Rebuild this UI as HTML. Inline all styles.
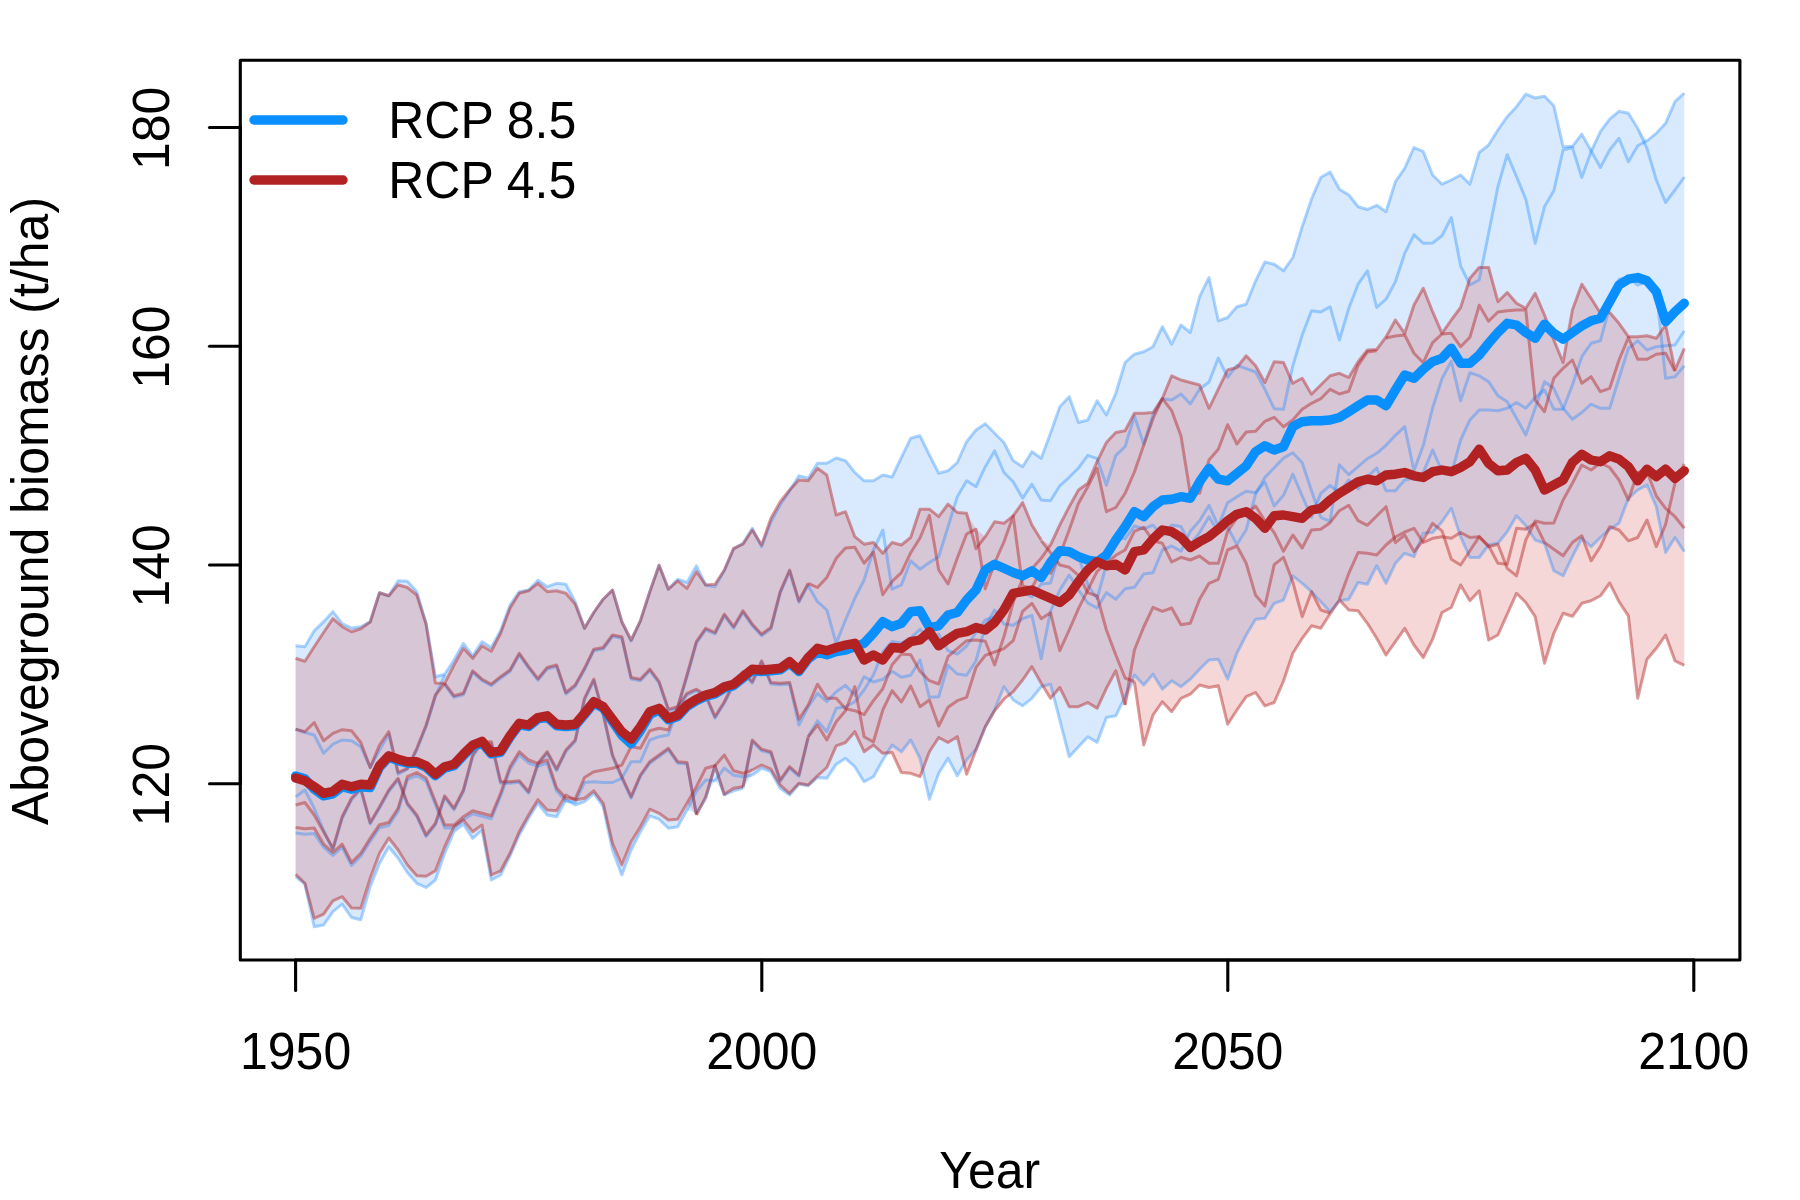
<!DOCTYPE html>
<html><head><meta charset="utf-8"><title>Aboveground biomass</title>
<style>html,body{margin:0;padding:0;background:#fff;}svg{display:block;}text{font-family:"Liberation Sans",sans-serif;font-size:50px;fill:#000;}</style></head><body>
<svg width="1800" height="1200" viewBox="0 0 1800 1200">
<rect x="0" y="0" width="1800" height="1200" fill="#fff"/>
<polygon points="295.6,645.8 304.9,646.7 314.2,630.8 323.6,621.7 332.9,611.7 342.2,623.7 351.5,628.0 360.8,626.7 370.2,621.7 379.5,592.8 388.8,595.8 398.1,580.8 407.4,581.3 416.8,591.7 426.1,623.3 435.4,676.7 444.7,674.2 454.0,660.0 463.4,643.3 472.7,655.8 482.0,641.7 491.3,647.5 500.6,630.8 510.0,605.0 519.3,591.7 528.6,590.0 537.9,580.3 547.2,586.7 556.6,583.3 565.9,584.2 575.2,601.7 584.5,628.3 593.8,612.5 603.2,599.2 612.5,590.0 621.8,621.7 631.1,641.0 640.4,620.8 649.8,591.7 659.1,565.3 668.4,589.2 677.7,579.2 687.0,582.5 696.4,565.8 705.7,585.0 715.0,586.7 724.3,570.8 733.6,549.0 743.0,543.3 752.3,528.3 761.6,546.7 770.9,521.7 780.2,505.0 789.6,490.8 798.9,475.8 808.2,478.3 817.5,463.3 826.8,463.3 836.2,458.0 845.5,460.8 854.8,472.5 864.1,480.8 873.4,480.8 882.8,475.0 892.1,477.0 901.4,457.5 910.7,438.3 920.0,435.8 929.4,455.0 938.7,473.3 948.0,470.8 957.3,462.5 966.6,441.7 976.0,430.0 985.3,423.7 994.6,433.3 1003.9,442.5 1013.2,460.8 1022.6,466.7 1031.9,451.7 1041.2,458.3 1050.5,433.3 1059.8,406.7 1069.2,396.7 1078.5,422.5 1087.8,420.0 1097.1,400.8 1106.4,415.0 1115.8,393.3 1125.1,362.5 1134.4,354.2 1143.7,351.7 1153.0,346.7 1162.4,326.7 1171.7,344.2 1181.0,325.0 1190.3,332.5 1199.6,296.7 1209.0,277.5 1218.3,320.8 1227.6,317.5 1236.9,306.7 1246.2,304.2 1255.6,280.8 1264.9,262.0 1274.2,264.2 1283.5,270.8 1292.8,257.5 1302.2,226.7 1311.5,199.2 1320.8,177.5 1330.1,172.0 1339.4,189.2 1348.8,195.0 1358.1,206.7 1367.4,209.5 1376.7,205.3 1386.0,211.7 1395.4,181.7 1404.7,168.3 1414.0,147.5 1423.3,151.7 1432.6,175.0 1442.0,184.2 1451.3,180.0 1460.6,175.0 1469.9,184.2 1479.2,152.5 1488.6,145.0 1497.9,130.0 1507.2,116.7 1516.5,106.7 1525.8,94.2 1535.2,98.0 1544.5,96.3 1553.8,105.8 1563.1,146.7 1572.4,146.3 1581.8,134.2 1591.1,150.8 1600.4,131.7 1609.7,119.2 1619.0,111.3 1628.4,113.3 1637.7,128.3 1647.0,140.8 1656.3,133.3 1665.6,123.3 1675.0,101.7 1684.3,93.0 1684.3,551.7 1675.0,537.5 1665.6,552.5 1656.3,506.7 1647.0,485.0 1637.7,490.0 1628.4,498.3 1619.0,523.3 1609.7,529.2 1600.4,537.5 1591.1,546.7 1581.8,538.3 1572.4,556.7 1563.1,575.8 1553.8,570.8 1544.5,543.3 1535.2,540.0 1525.8,525.8 1516.5,515.8 1507.2,531.7 1497.9,543.3 1488.6,545.0 1479.2,557.5 1469.9,557.5 1460.6,536.7 1451.3,508.3 1442.0,521.7 1432.6,532.5 1423.3,533.3 1414.0,556.7 1404.7,553.3 1395.4,563.3 1386.0,583.3 1376.7,565.8 1367.4,584.2 1358.1,582.5 1348.8,599.2 1339.4,600.8 1330.1,611.7 1320.8,601.7 1311.5,591.7 1302.2,583.3 1292.8,575.8 1283.5,600.0 1274.2,603.3 1264.9,618.3 1255.6,619.2 1246.2,635.0 1236.9,653.3 1227.6,679.2 1218.3,659.2 1209.0,660.0 1199.6,669.2 1190.3,679.2 1181.0,686.7 1171.7,680.8 1162.4,689.2 1153.0,674.2 1143.7,685.0 1134.4,675.0 1125.1,696.7 1115.8,715.8 1106.4,717.5 1097.1,742.5 1087.8,736.7 1078.5,746.7 1069.2,756.7 1059.8,720.0 1050.5,684.2 1041.2,686.7 1031.9,698.3 1022.6,705.8 1013.2,700.0 1003.9,686.7 994.6,710.0 985.3,726.7 976.0,749.2 966.6,760.0 957.3,775.8 948.0,758.3 938.7,773.3 929.4,799.2 920.0,758.3 910.7,740.0 901.4,751.7 892.1,745.0 882.8,760.0 873.4,776.7 864.1,781.7 854.8,766.7 845.5,758.3 836.2,764.2 826.8,778.3 817.5,777.5 808.2,785.8 798.9,784.2 789.6,795.0 780.2,788.3 770.9,771.7 761.6,768.3 752.3,775.0 743.0,788.3 733.6,790.8 724.3,795.0 715.0,780.0 705.7,798.5 696.4,813.5 687.0,810.0 677.7,826.7 668.4,828.3 659.1,819.2 649.8,815.8 640.4,831.7 631.1,850.0 621.8,875.0 612.5,850.0 603.2,806.7 593.8,793.3 584.5,801.7 575.2,805.0 565.9,800.0 556.6,816.7 547.2,815.0 537.9,803.3 528.6,818.3 519.3,835.0 510.0,855.8 500.6,875.0 491.3,880.0 482.0,830.0 472.7,838.3 463.4,824.2 454.0,831.7 444.7,853.3 435.4,880.0 426.1,887.5 416.8,883.3 407.4,872.5 398.1,858.3 388.8,846.7 379.5,863.3 370.2,886.7 360.8,919.7 351.5,917.5 342.2,904.2 332.9,911.7 323.6,925.0 314.2,926.7 304.9,884.2 295.6,876.7" fill="rgb(24,124,249)" fill-opacity="0.16" stroke="none"/>
<polygon points="295.6,658.3 304.9,661.3 314.2,646.7 323.6,632.5 332.9,618.7 342.2,626.7 351.5,631.7 360.8,628.7 370.2,622.0 379.5,592.8 388.8,595.8 398.1,584.7 407.4,587.5 416.8,595.0 426.1,624.2 435.4,683.0 444.7,683.3 454.0,665.0 463.4,648.3 472.7,658.3 482.0,645.8 491.3,651.3 500.6,633.3 510.0,608.3 519.3,593.3 528.6,590.8 537.9,583.3 547.2,591.7 556.6,590.8 565.9,593.3 575.2,604.2 584.5,628.3 593.8,612.5 603.2,599.2 612.5,590.0 621.8,621.7 631.1,640.0 640.4,620.8 649.8,591.7 659.1,565.3 668.4,589.2 677.7,580.8 687.0,588.3 696.4,571.7 705.7,585.0 715.0,584.2 724.3,570.0 733.6,548.3 743.0,544.2 752.3,530.0 761.6,545.0 770.9,518.3 780.2,501.7 789.6,490.0 798.9,480.0 808.2,480.8 817.5,468.3 826.8,475.0 836.2,515.0 845.5,511.7 854.8,536.7 864.1,544.2 873.4,542.5 882.8,553.3 892.1,542.5 901.4,545.0 910.7,537.5 920.0,509.2 929.4,509.2 938.7,516.7 948.0,504.2 957.3,512.5 966.6,513.3 976.0,529.2 985.3,536.7 994.6,521.7 1003.9,523.3 1013.2,515.8 1022.6,502.5 1031.9,525.0 1041.2,540.0 1050.5,545.0 1059.8,525.0 1069.2,506.7 1078.5,490.0 1087.8,483.3 1097.1,461.7 1106.4,442.5 1115.8,432.5 1125.1,430.8 1134.4,413.3 1143.7,413.3 1153.0,412.5 1162.4,398.3 1171.7,375.8 1181.0,380.0 1190.3,382.5 1199.6,385.0 1209.0,408.3 1218.3,389.2 1227.6,370.0 1236.9,367.5 1246.2,355.8 1255.6,365.8 1264.9,382.5 1274.2,361.7 1283.5,362.5 1292.8,383.3 1302.2,378.3 1311.5,394.2 1320.8,385.0 1330.1,375.8 1339.4,373.3 1348.8,377.5 1358.1,361.7 1367.4,350.0 1376.7,349.5 1386.0,337.0 1395.4,320.0 1404.7,333.3 1414.0,305.0 1423.3,288.3 1432.6,311.7 1442.0,333.3 1451.3,320.0 1460.6,307.5 1469.9,278.3 1479.2,267.5 1488.6,267.5 1497.9,301.7 1507.2,292.5 1516.5,303.3 1525.8,308.3 1535.2,293.3 1544.5,315.0 1553.8,340.0 1563.1,362.5 1572.4,310.0 1581.8,284.2 1591.1,298.3 1600.4,313.3 1609.7,312.5 1619.0,323.3 1628.4,336.7 1637.7,336.7 1647.0,335.8 1656.3,338.3 1665.6,325.0 1675.0,370.0 1684.3,348.3 1684.3,665.3 1675.0,660.8 1665.6,635.0 1656.3,648.3 1647.0,659.2 1637.7,698.3 1628.4,615.8 1619.0,601.7 1609.7,583.0 1600.4,595.8 1591.1,600.8 1581.8,603.3 1572.4,616.3 1563.1,613.3 1553.8,633.3 1544.5,663.3 1535.2,616.7 1525.8,602.5 1516.5,593.3 1507.2,614.2 1497.9,635.0 1488.6,640.0 1479.2,590.8 1469.9,600.8 1460.6,585.0 1451.3,607.5 1442.0,612.5 1432.6,639.2 1423.3,657.5 1414.0,645.0 1404.7,628.3 1395.4,641.7 1386.0,655.0 1376.7,638.3 1367.4,623.3 1358.1,610.8 1348.8,610.0 1339.4,600.0 1330.1,613.8 1320.8,628.3 1311.5,625.8 1302.2,638.3 1292.8,653.3 1283.5,681.0 1274.2,702.5 1264.9,705.8 1255.6,692.5 1246.2,696.7 1236.9,710.0 1227.6,724.2 1218.3,685.8 1209.0,687.5 1199.6,685.0 1190.3,694.2 1181.0,698.3 1171.7,711.7 1162.4,701.7 1153.0,715.0 1143.7,745.0 1134.4,681.7 1125.1,705.0 1115.8,670.8 1106.4,688.3 1097.1,708.3 1087.8,702.5 1078.5,706.7 1069.2,706.7 1059.8,687.5 1050.5,698.3 1041.2,683.3 1031.9,666.7 1022.6,680.0 1013.2,691.7 1003.9,699.2 994.6,710.8 985.3,726.7 976.0,750.0 966.6,774.2 957.3,736.7 948.0,742.5 938.7,737.5 929.4,751.7 920.0,776.7 910.7,773.3 901.4,772.5 892.1,752.5 882.8,753.3 873.4,745.0 864.1,751.7 854.8,731.7 845.5,742.5 836.2,745.8 826.8,767.5 817.5,775.8 808.2,785.0 798.9,783.3 789.6,793.3 780.2,785.0 770.9,769.2 761.6,765.0 752.3,770.0 743.0,786.7 733.6,788.3 724.3,794.2 715.0,765.8 705.7,796.7 696.4,815.0 687.0,803.3 677.7,819.2 668.4,820.0 659.1,813.3 649.8,809.2 640.4,826.7 631.1,841.7 621.8,865.0 612.5,843.3 603.2,803.3 593.8,790.8 584.5,798.3 575.2,800.0 565.9,795.0 556.6,810.8 547.2,810.0 537.9,799.7 528.6,815.0 519.3,831.7 510.0,853.3 500.6,870.8 491.3,875.0 482.0,825.0 472.7,831.7 463.4,820.0 454.0,826.7 444.7,846.7 435.4,870.8 426.1,876.3 416.8,875.8 407.4,865.0 398.1,850.0 388.8,838.0 379.5,853.3 370.2,878.3 360.8,908.3 351.5,908.0 342.2,896.7 332.9,900.8 323.6,914.2 314.2,918.3 304.9,883.3 295.6,874.2" fill="rgb(205,38,38)" fill-opacity="0.185" stroke="none"/>
<g fill="none" stroke="rgb(16,130,255)" stroke-opacity="0.34" stroke-width="3.0" stroke-linejoin="round" stroke-linecap="butt">
<polyline points="295.6,645.8 304.9,646.7 314.2,630.8 323.6,621.7 332.9,611.7 342.2,623.7 351.5,628.0 360.8,626.7 370.2,621.7 379.5,592.8 388.8,595.8 398.1,580.8 407.4,581.3 416.8,591.7 426.1,623.3 435.4,676.7 444.7,674.2 454.0,660.0 463.4,643.3 472.7,655.8 482.0,641.7 491.3,647.5 500.6,630.8 510.0,605.0 519.3,591.7 528.6,590.0 537.9,580.3 547.2,586.7 556.6,583.3 565.9,584.2 575.2,601.7 584.5,628.3 593.8,612.5 603.2,599.2 612.5,590.0 621.8,621.7 631.1,641.0 640.4,620.8 649.8,591.7 659.1,565.3 668.4,589.2 677.7,579.2 687.0,582.5 696.4,565.8 705.7,585.0 715.0,586.7 724.3,570.8 733.6,549.0 743.0,543.3 752.3,528.3 761.6,546.7 770.9,521.7 780.2,505.0 789.6,490.8 798.9,475.8 808.2,478.3 817.5,463.3 826.8,463.3 836.2,458.0 845.5,460.8 854.8,472.5 864.1,480.8 873.4,480.8 882.8,475.0 892.1,477.0 901.4,457.5 910.7,438.3 920.0,435.8 929.4,455.0 938.7,473.3 948.0,470.8 957.3,462.5 966.6,441.7 976.0,430.0 985.3,423.7 994.6,433.3 1003.9,442.5 1013.2,460.8 1022.6,466.7 1031.9,451.7 1041.2,458.3 1050.5,433.3 1059.8,406.7 1069.2,396.7 1078.5,422.5 1087.8,420.0 1097.1,400.8 1106.4,415.0 1115.8,393.3 1125.1,362.5 1134.4,354.2 1143.7,351.7 1153.0,346.7 1162.4,326.7 1171.7,344.2 1181.0,325.0 1190.3,332.5 1199.6,296.7 1209.0,277.5 1218.3,320.8 1227.6,317.5 1236.9,306.7 1246.2,304.2 1255.6,280.8 1264.9,262.0 1274.2,264.2 1283.5,270.8 1292.8,257.5 1302.2,226.7 1311.5,199.2 1320.8,177.5 1330.1,172.0 1339.4,189.2 1348.8,195.0 1358.1,206.7 1367.4,209.5 1376.7,205.3 1386.0,211.7 1395.4,181.7 1404.7,168.3 1414.0,147.5 1423.3,151.7 1432.6,175.0 1442.0,184.2 1451.3,180.0 1460.6,175.0 1469.9,184.2 1479.2,152.5 1488.6,145.0 1497.9,130.0 1507.2,116.7 1516.5,106.7 1525.8,94.2 1535.2,98.0 1544.5,96.3 1553.8,105.8 1563.1,146.7 1572.4,146.3 1581.8,134.2 1591.1,150.8 1600.4,167.5 1609.7,150.0 1619.0,138.3 1628.4,161.7 1637.7,145.8 1647.0,140.8 1656.3,133.3 1665.6,123.3 1675.0,101.7 1684.3,93.0"/>
<polyline points="295.6,876.7 304.9,884.2 314.2,926.7 323.6,925.0 332.9,911.7 342.2,904.2 351.5,917.5 360.8,919.7 370.2,886.7 379.5,863.3 388.8,846.7 398.1,858.3 407.4,872.5 416.8,883.3 426.1,887.5 435.4,880.0 444.7,853.3 454.0,831.7 463.4,824.2 472.7,838.3 482.0,830.0 491.3,880.0 500.6,875.0 510.0,855.8 519.3,835.0 528.6,818.3 537.9,803.3 547.2,815.0 556.6,816.7 565.9,800.0 575.2,805.0 584.5,801.7 593.8,793.3 603.2,806.7 612.5,850.0 621.8,875.0 631.1,850.0 640.4,831.7 649.8,815.8 659.1,819.2 668.4,828.3 677.7,826.7 687.0,810.0"/>
<polyline points="696.4,813.5 705.7,798.5"/>
<polyline points="724.3,795.0 733.6,790.8 743.0,788.3"/>
<polyline points="752.3,775.0 761.6,768.3 770.9,771.7 780.2,788.3 789.6,795.0 798.9,784.2 808.2,785.8 817.5,777.5 826.8,778.3 836.2,764.2 845.5,758.3 854.8,766.7 864.1,781.7 873.4,776.7 882.8,760.0 892.1,745.0 901.4,751.7 910.7,740.0 920.0,758.3 929.4,799.2 938.7,773.3 948.0,758.3 957.3,775.8 966.6,760.0 976.0,749.2 985.3,726.7 994.6,710.0 1003.9,686.7 1013.2,700.0 1022.6,705.8 1031.9,698.3 1041.2,686.7 1050.5,684.2 1059.8,720.0 1069.2,756.7 1078.5,746.7 1087.8,736.7 1097.1,742.5 1106.4,717.5 1115.8,715.8 1125.1,696.7 1134.4,675.0 1143.7,685.0 1153.0,674.2 1162.4,689.2 1171.7,680.8 1181.0,686.7 1190.3,679.2 1199.6,669.2 1209.0,660.0 1218.3,659.2 1227.6,679.2 1236.9,653.3 1246.2,635.0 1255.6,619.2 1264.9,618.3 1274.2,603.3 1283.5,600.0 1292.8,575.8 1302.2,583.3 1311.5,591.7 1320.8,601.7 1330.1,611.7 1339.4,600.8 1348.8,599.2 1358.1,582.5 1367.4,584.2 1376.7,565.8 1386.0,583.3 1395.4,563.3 1404.7,553.3 1414.0,556.7 1423.3,533.3 1432.6,532.5 1442.0,521.7 1451.3,508.3 1460.6,536.7 1469.9,557.5 1479.2,557.5 1488.6,545.0 1497.9,543.3 1507.2,531.7 1516.5,515.8 1525.8,525.8 1535.2,540.0 1544.5,543.3 1553.8,570.8 1563.1,575.8 1572.4,556.7 1581.8,538.3 1591.1,546.7 1600.4,537.5 1609.7,529.2 1619.0,523.3 1628.4,498.3 1637.7,490.0 1647.0,485.0 1656.3,506.7 1665.6,552.5 1675.0,537.5 1684.3,551.7"/>
<polyline points="808.2,585.8 817.5,601.7 826.8,610.0 836.2,643.3 845.5,620.0 854.8,598.3 864.1,580.0 873.4,550.0 882.8,530.0 892.1,589.2 901.4,585.0 910.7,560.8 920.0,569.2 929.4,562.5 938.7,556.7 948.0,526.7 957.3,496.7 966.6,480.8 976.0,486.7 985.3,466.7 994.6,450.8 1003.9,472.5 1013.2,481.7 1022.6,498.3 1031.9,484.2 1041.2,500.0 1050.5,500.8 1059.8,485.8 1069.2,477.3 1078.5,468.0 1087.8,455.3 1097.1,458.7 1106.4,485.3 1115.8,455.3 1125.1,446.7 1134.4,416.0 1143.7,444.0 1153.0,414.7 1162.4,398.7 1171.7,400.0 1181.0,394.0 1190.3,404.0 1199.6,389.3 1209.0,382.0 1218.3,358.0 1227.6,377.3 1236.9,365.3 1246.2,368.7 1255.6,372.0 1264.9,389.3 1274.2,408.7 1283.5,409.3 1292.8,366.0 1302.2,335.0 1311.5,310.8 1320.8,312.0 1330.1,306.7 1339.4,340.0 1348.8,308.3 1358.1,284.2 1367.4,270.8 1376.7,307.5 1386.0,299.2 1395.4,281.7 1404.7,253.3 1414.0,234.7 1423.3,243.3 1432.6,243.0 1442.0,235.8 1451.3,217.5 1460.6,265.8 1469.9,285.0 1479.2,280.0 1488.6,233.3 1497.9,186.7 1507.2,154.7 1516.5,176.7 1525.8,199.2 1535.2,243.3 1544.5,206.7 1553.8,190.8 1563.1,150.0 1572.4,147.5 1581.8,177.5 1591.1,151.7 1600.4,131.7 1609.7,119.2 1619.0,111.3 1628.4,113.3 1637.7,128.3 1647.0,148.3 1656.3,180.0 1665.6,202.5 1675.0,190.0 1684.3,177.0"/>
<polyline points="808.2,706.7 817.5,693.3 826.8,701.7 836.2,691.7 845.5,685.3 854.8,695.3 864.1,676.7 873.4,682.0 882.8,679.3 892.1,671.3 901.4,677.3 910.7,675.3 920.0,660.0 929.4,697.3 938.7,696.7 948.0,665.3 957.3,674.0 966.6,675.3 976.0,660.7 985.3,626.0 994.6,610.0 1003.9,624.0 1013.2,625.3 1022.6,618.7 1031.9,615.3 1041.2,658.7 1050.5,611.3 1059.8,590.0 1069.2,575.0 1078.5,590.0 1087.8,603.0 1097.1,608.0 1106.4,592.7 1115.8,599.3 1125.1,588.7 1134.4,587.3 1143.7,574.0 1153.0,572.7 1162.4,550.0 1171.7,546.0 1181.0,551.3 1190.3,531.3 1199.6,520.7 1209.0,505.3 1218.3,526.0 1227.6,502.7 1236.9,496.7 1246.2,491.3 1255.6,492.7 1264.9,482.0 1274.2,506.0 1283.5,495.3 1292.8,474.0 1302.2,496.0 1311.5,517.3 1320.8,493.3 1330.1,485.3 1339.4,492.8 1348.8,480.0 1358.1,489.0 1367.4,476.8 1376.7,468.0 1386.0,490.7 1395.4,490.7 1404.7,480.0 1414.0,478.0 1423.3,472.4 1432.6,450.0 1442.0,471.0 1451.3,474.0 1460.6,440.0 1469.9,420.0 1479.2,410.0 1488.6,410.0 1497.9,410.8 1507.2,408.3 1516.5,402.5 1525.8,408.3 1535.2,397.5 1544.5,390.0 1553.8,409.2 1563.1,409.2 1572.4,385.0 1581.8,356.7 1591.1,343.3 1600.4,340.8 1609.7,306.7 1619.0,279.2 1628.4,277.5 1637.7,285.0 1647.0,281.7 1656.3,290.0 1665.6,378.3 1675.0,376.7 1684.3,365.8"/>
<polyline points="808.2,736.7 817.5,720.8 826.8,731.7 836.2,708.3 845.5,706.7 854.8,701.7 864.1,690.0 873.4,675.0 882.8,652.0 892.1,641.6 901.4,643.0 910.7,638.0 920.0,629.3 929.4,639.3 938.7,634.0 948.0,650.7 957.3,654.0 966.6,646.0 976.0,632.7 985.3,620.0 994.6,617.0 1003.9,612.0 1013.2,597.0 1022.6,592.0 1031.9,597.0 1041.2,584.0 1050.5,582.9 1059.8,551.5 1069.2,552.8 1078.5,556.3 1087.8,585.0 1097.1,598.5 1106.4,564.5 1115.8,536.3 1125.1,538.9 1134.4,526.0 1143.7,528.8 1153.0,525.2 1162.4,535.4 1171.7,525.0 1181.0,526.5 1190.3,544.5 1199.6,532.6 1209.0,516.7 1218.3,532.0 1227.6,527.3 1236.9,544.5 1246.2,529.8 1255.6,493.8 1264.9,477.4 1274.2,467.8 1283.5,458.1 1292.8,452.7 1302.2,462.7 1311.5,490.7 1320.8,517.3 1330.1,521.3 1339.4,464.7 1348.8,474.7 1358.1,466.7 1367.4,458.7 1376.7,453.3 1386.0,445.3 1395.4,435.3 1404.7,426.7 1414.0,470.7 1423.3,445.3 1432.6,408.0 1442.0,378.7 1451.3,361.3 1460.6,400.7 1469.9,372.7 1479.2,375.8 1488.6,381.7 1497.9,395.8 1507.2,401.7 1516.5,418.3 1525.8,435.0 1535.2,408.3 1544.5,381.7 1553.8,388.3 1563.1,408.3 1572.4,419.2 1581.8,412.5 1591.1,404.2 1600.4,408.3 1609.7,408.3 1619.0,378.3 1628.4,348.3 1637.7,340.8 1647.0,350.0 1656.3,346.7 1665.6,345.8 1675.0,345.0 1684.3,330.8"/>
<polyline points="444.7,684.8 454.0,697.3 463.4,694.8 472.7,672.3 482.0,680.7 491.3,685.7 500.6,678.2 510.0,671.5 519.3,654.8 528.6,668.2 537.9,680.2 547.2,669.0 556.6,666.5 565.9,694.0 575.2,686.5 584.5,669.8 593.8,650.7 603.2,649.0 612.5,636.5 621.8,638.2 631.1,679.0 640.4,680.7 649.8,670.7 659.1,683.2 668.4,710.7 677.7,708.2 687.0,676.5 696.4,643.2 705.7,629.8 715.0,634.0 724.3,615.7 733.6,628.2 743.0,612.3 752.3,625.7 761.6,635.7 770.9,629.0 780.2,593.2 789.6,571.5 798.9,602.3 808.2,584.8"/>
<polyline points="295.6,729.2 304.9,732.5 314.2,735.0 323.6,753.3 332.9,744.2 342.2,740.0 351.5,740.8 360.8,746.7 370.2,767.5 379.5,750.0 388.8,734.2 398.1,774.2 407.4,769.2 416.8,750.0 426.1,726.7 435.4,696.5 444.7,675.0"/>
<polyline points="295.6,796.7 304.9,790.0 314.2,808.3 323.6,830.5 332.9,849.8 342.2,818.2 351.5,799.8 360.8,789.8 370.2,824.0 379.5,808.2 388.8,791.5 398.1,779.8 407.4,804.8 416.8,816.5 426.1,836.5 435.4,824.8 444.7,797.3 454.0,809.8 463.4,791.5 472.7,756.5 482.0,743.2 491.3,743.2 500.6,783.2 510.0,783.2 519.3,782.3 528.6,793.2 537.9,764.8 547.2,753.2 556.6,770.5 565.9,751.5 575.2,741.5 584.5,699.8 593.8,680.7 603.2,714.8 612.5,756.5 621.8,778.2 631.1,798.2 640.4,776.5 649.8,763.2 659.1,756.5 668.4,749.8 677.7,763.2 687.0,764.0 696.4,813.5"/>
<polyline points="705.7,798.5 715.0,765.7 724.3,795.7"/>
<polyline points="743.0,788.2 752.3,741.5 761.6,750.7 770.9,753.2 780.2,781.5 789.6,768.2 798.9,776.5 808.2,738.2"/>
<polyline points="687.0,810.0 696.4,791.3 705.7,780.0 715.0,780.7 724.3,768.0 733.6,775.3 743.0,776.7 752.3,775.0"/>
<polyline points="295.6,833.0 304.9,834.2 314.2,833.5 323.6,847.2 332.9,855.5 342.2,847.2 351.5,865.5 360.8,856.3 370.2,841.3 379.5,827.7 388.8,825.5 398.1,811.3 407.4,779.7 416.8,775.5 426.1,781.3 435.4,804.7 444.7,828.0 454.0,828.0 463.4,819.7 472.7,813.8 482.0,816.3 491.3,818.8 500.6,796.3 510.0,769.7 519.3,754.7 528.6,763.0 537.9,766.3 547.2,763.0 556.6,791.0 565.9,801.0 575.2,802.0 584.5,782.5 593.8,781.7 603.2,782.5 612.5,782.5 621.8,778.3 631.1,761.7 640.4,761.7 649.8,740.0 659.1,736.7 668.4,735.0 677.7,708.2 687.0,694.8 696.4,690.7 705.7,696.5 715.0,718.2 724.3,703.2 733.6,684.8 743.0,673.2 752.3,683.2 761.6,662.3 770.9,684.0 780.2,684.8 789.6,684.0 798.9,725.0 808.2,706.7"/>
</g>
<g fill="none" stroke="#b22222" stroke-opacity="0.45" stroke-width="3.0" stroke-linejoin="round" stroke-linecap="butt">
<polyline points="295.6,658.3 304.9,661.3 314.2,646.7 323.6,632.5 332.9,618.7 342.2,626.7 351.5,631.7 360.8,628.7 370.2,622.0 379.5,592.8 388.8,595.8 398.1,584.7 407.4,587.5 416.8,595.0 426.1,624.2 435.4,683.0 444.7,683.3 454.0,665.0 463.4,648.3 472.7,658.3 482.0,645.8 491.3,651.3 500.6,633.3 510.0,608.3 519.3,593.3 528.6,590.8 537.9,583.3 547.2,591.7 556.6,590.8 565.9,593.3 575.2,604.2 584.5,628.3 593.8,612.5 603.2,599.2 612.5,590.0 621.8,621.7 631.1,640.0 640.4,620.8 649.8,591.7 659.1,565.3 668.4,589.2 677.7,580.8 687.0,588.3 696.4,571.7 705.7,585.0 715.0,584.2 724.3,570.0 733.6,548.3 743.0,544.2 752.3,530.0 761.6,545.0 770.9,518.3 780.2,501.7 789.6,490.0 798.9,480.0 808.2,480.8 817.5,468.3 826.8,475.0 836.2,515.0 845.5,511.7 854.8,536.7 864.1,544.2 873.4,542.5 882.8,553.3 892.1,542.5 901.4,545.0 910.7,537.5 920.0,509.2 929.4,509.2 938.7,516.7 948.0,504.2 957.3,512.5 966.6,513.3 976.0,548.7 985.3,536.7 994.6,521.7 1003.9,523.3 1013.2,515.8 1022.6,502.5 1031.9,525.0 1041.2,540.0"/>
<polyline points="1050.5,545.0 1059.8,525.0 1069.2,506.7 1078.5,490.0 1087.8,483.3 1097.1,461.7 1106.4,442.5 1115.8,432.5 1125.1,430.8 1134.4,413.3 1143.7,413.3 1153.0,412.5 1162.4,398.3 1171.7,375.8 1181.0,380.0 1190.3,382.5 1199.6,385.0 1209.0,408.3 1218.3,389.2 1227.6,370.0 1236.9,367.5 1246.2,355.8 1255.6,365.8 1264.9,382.5 1274.2,361.7 1283.5,362.5 1292.8,383.3 1302.2,378.3 1311.5,394.2 1320.8,385.0 1330.1,375.8 1339.4,373.3 1348.8,377.5 1358.1,361.7 1367.4,350.0 1376.7,349.5 1386.0,337.0 1395.4,320.0 1404.7,333.3 1414.0,305.0 1423.3,288.3 1432.6,311.7 1442.0,333.3 1451.3,320.0 1460.6,307.5 1469.9,278.3 1479.2,267.5 1488.6,267.5 1497.9,301.7 1507.2,292.5 1516.5,303.3 1525.8,308.3 1535.2,293.3 1544.5,315.0 1553.8,340.0 1563.1,362.5 1572.4,310.0 1581.8,284.2 1591.1,298.3 1600.4,313.3 1609.7,312.5 1619.0,323.3 1628.4,336.7 1637.7,336.7 1647.0,335.8 1656.3,338.3 1665.6,325.0 1675.0,370.0 1684.3,348.3"/>
<polyline points="295.6,874.2 304.9,883.3 314.2,918.3 323.6,914.2 332.9,900.8 342.2,896.7 351.5,908.0 360.8,908.3 370.2,878.3 379.5,853.3 388.8,838.0 398.1,850.0 407.4,865.0 416.8,875.8 426.1,876.3 435.4,870.8 444.7,846.7 454.0,826.7 463.4,820.0 472.7,831.7 482.0,825.0 491.3,875.0 500.6,870.8 510.0,853.3 519.3,831.7 528.6,815.0 537.9,799.7 547.2,810.0 556.6,810.8 565.9,795.0 575.2,800.0 584.5,798.3 593.8,790.8 603.2,803.3 612.5,843.3 621.8,865.0 631.1,841.7 640.4,826.7 649.8,809.2 659.1,813.3 668.4,820.0 677.7,819.2 687.0,803.3"/>
<polyline points="696.4,815.0 705.7,796.7 715.0,765.8 724.3,794.2 733.6,788.3 743.0,786.7"/>
<polyline points="752.3,770.0 761.6,765.0 770.9,769.2 780.2,785.0 789.6,793.3 798.9,783.3 808.2,785.0 817.5,775.8 826.8,767.5 836.2,745.8 845.5,742.5 854.8,731.7 864.1,751.7 873.4,745.0 882.8,753.3 892.1,752.5 901.4,772.5 910.7,773.3 920.0,776.7 929.4,751.7 938.7,737.5 948.0,742.5 957.3,736.7 966.6,774.2 976.0,750.0 985.3,726.7 994.6,710.8 1003.9,699.2 1013.2,691.7 1022.6,680.0 1031.9,666.7 1041.2,683.3 1050.5,698.3 1059.8,687.5 1069.2,706.7 1078.5,706.7 1087.8,702.5 1097.1,708.3 1106.4,688.3 1115.8,670.8 1125.1,705.0"/>
<polyline points="1134.4,681.7 1143.7,745.0 1153.0,715.0 1162.4,701.7 1171.7,711.7 1181.0,698.3 1190.3,694.2 1199.6,685.0 1209.0,687.5 1218.3,685.8 1227.6,724.2 1236.9,710.0 1246.2,696.7 1255.6,692.5 1264.9,705.8 1274.2,702.5 1283.5,681.0 1292.8,653.3 1302.2,638.3 1311.5,625.8 1320.8,628.3 1330.1,613.8 1339.4,600.0 1348.8,610.0 1358.1,610.8 1367.4,623.3 1376.7,638.3 1386.0,655.0 1395.4,641.7 1404.7,628.3 1414.0,645.0 1423.3,657.5 1432.6,639.2 1442.0,612.5 1451.3,607.5 1460.6,585.0 1469.9,600.8 1479.2,590.8 1488.6,640.0 1497.9,635.0 1507.2,614.2 1516.5,593.3 1525.8,602.5 1535.2,616.7 1544.5,663.3 1553.8,633.3 1563.1,613.3 1572.4,616.3 1581.8,603.3 1591.1,600.8 1600.4,595.8 1609.7,583.0 1619.0,601.7 1628.4,615.8 1637.7,698.3 1647.0,659.2 1656.3,648.3 1665.6,635.0 1675.0,660.8 1684.3,665.3"/>
<polyline points="444.7,683.3 454.0,695.8 463.4,693.3 472.7,670.8 482.0,679.2 491.3,684.2 500.6,676.7 510.0,670.0 519.3,653.3 528.6,666.7 537.9,678.7 547.2,667.5 556.6,665.0 565.9,692.5 575.2,685.0 584.5,668.3 593.8,649.2 603.2,647.5 612.5,635.0 621.8,636.7 631.1,677.5 640.4,679.2 649.8,669.2 659.1,681.7 668.4,709.2 677.7,706.7 687.0,675.0 696.4,641.7 705.7,628.3 715.0,632.5 724.3,614.2 733.6,626.7 743.0,610.8 752.3,624.2 761.6,634.2 770.9,627.5 780.2,591.7 789.6,570.0 798.9,600.8 808.2,583.3"/>
<polyline points="295.6,729.2 304.9,731.7 314.2,722.5 323.6,740.8 332.9,733.3 342.2,729.7 351.5,730.8 360.8,742.5 370.2,767.5 379.5,745.0 388.8,731.7 398.1,772.5 407.4,768.3 416.8,748.3 426.1,725.0 435.4,695.0 444.7,683.3"/>
<polyline points="295.6,805.0 304.9,802.5 314.2,815.0 323.6,831.7 332.9,848.3 342.2,816.7 351.5,798.3 360.8,788.3 370.2,822.5 379.5,806.7 388.8,790.0 398.1,778.3 407.4,803.3 416.8,815.0 426.1,835.0 435.4,823.3 444.7,795.8 454.0,808.3 463.4,790.0 472.7,755.0 482.0,741.7 491.3,741.7 500.6,781.7 510.0,781.7 519.3,780.8 528.6,791.7 537.9,763.3 547.2,751.7 556.6,769.0 565.9,750.0 575.2,740.0 584.5,698.3 593.8,679.2 603.2,713.3 612.5,755.0 621.8,776.7 631.1,796.7 640.4,775.0 649.8,761.7 659.1,755.0 668.4,748.3 677.7,761.7 687.0,762.5 696.4,815.0"/>
<polyline points="743.0,786.7 752.3,740.0 761.6,749.2 770.9,751.7 780.2,780.0 789.6,766.7 798.9,775.0 808.2,736.7"/>
<polyline points="295.6,827.5 304.9,828.7 314.2,828.0 323.6,844.2 332.9,852.5 342.2,844.2 351.5,862.5 360.8,853.3 370.2,838.3 379.5,824.7 388.8,822.5 398.1,808.3 407.4,776.7 416.8,772.5 426.1,778.3 435.4,801.7 444.7,825.0 454.0,825.0 463.4,816.7 472.7,810.8 482.0,813.3 491.3,815.8 500.6,793.3 510.0,766.7 519.3,751.7 528.6,760.0 537.9,763.3 547.2,760.0 556.6,788.0 565.9,798.0 575.2,799.0 584.5,777.5 593.8,771.7 603.2,770.0 612.5,768.3 621.8,765.0 631.1,746.7 640.4,748.3 649.8,730.8 659.1,728.3 668.4,730.0 677.7,706.7 687.0,693.3 696.4,689.2 705.7,695.0 715.0,716.7 724.3,701.7 733.6,683.3 743.0,671.7 752.3,681.7 761.6,660.8 770.9,682.5 780.2,683.3 789.6,682.5 798.9,719.2 808.2,705.0"/>
<polyline points="687.0,803.3 696.4,786.7 705.7,768.3 715.0,765.8 724.3,755.0 733.6,770.8 743.0,773.3 752.3,770.0"/>
<polyline points="808.2,583.3 817.5,587.5 826.8,577.5 836.2,558.3 845.5,548.0 854.8,547.3 864.1,563.3 873.4,552.0 882.8,594.7 892.1,581.3 901.4,572.7 910.7,552.7 920.0,538.0 929.4,515.3 938.7,570.0 948.0,584.0 957.3,558.0 966.6,534.0 976.0,529.2 985.3,588.7 994.6,563.0 1003.9,542.0 1013.2,516.0 1022.6,586.0 1031.9,588.0 1041.2,570.0 1050.5,573.3 1059.8,555.0 1069.2,530.0 1078.5,503.3 1087.8,486.7 1097.1,468.3 1106.4,511.7 1115.8,507.5 1125.1,493.3 1134.4,472.0 1143.7,445.3 1153.0,418.7 1162.4,398.7 1171.7,410.7 1181.0,436.0 1190.3,494.0 1199.6,493.3 1209.0,460.0 1218.3,449.3 1227.6,424.7 1236.9,444.0 1246.2,432.0 1255.6,431.3 1264.9,421.3 1274.2,417.3 1283.5,426.7 1292.8,420.0 1302.2,409.3 1311.5,403.3 1320.8,398.7 1330.1,389.3 1339.4,394.0 1348.8,391.3 1358.1,365.3 1367.4,352.0 1376.7,350.7"/>
<polyline points="1386.0,338.0 1395.4,336.0 1404.7,335.0 1414.0,353.3 1423.3,362.7 1432.6,342.7 1442.0,334.0 1451.3,333.3 1460.6,346.7 1469.9,337.3 1479.2,305.3 1488.6,321.3 1497.9,312.0 1507.2,310.7 1516.5,310.0 1525.8,310.0 1535.2,400.0 1544.5,411.7 1553.8,378.3 1563.1,368.3 1572.4,360.0 1581.8,383.3 1591.1,376.7 1600.4,391.7 1609.7,388.3 1619.0,360.0 1628.4,337.5 1637.7,359.2 1647.0,359.2 1656.3,354.2 1665.6,353.3 1675.0,371.0"/>
<polyline points="808.2,736.7 817.5,725.0 826.8,740.0 836.2,721.7 845.5,710.8 854.8,686.7 864.1,736.7 873.4,742.0 882.8,710.0 892.1,690.7 901.4,702.0 910.7,686.0 920.0,706.7 929.4,700.0 938.7,726.0 948.0,707.3 957.3,700.7 966.6,697.3 976.0,667.3 985.3,655.3 994.6,652.0 1003.9,648.7 1013.2,640.7 1022.6,611.3 1031.9,603.3 1041.2,618.7 1050.5,612.7 1059.8,650.7 1069.2,630.0 1078.5,608.7 1087.8,590.0 1097.1,571.3 1106.4,563.3 1115.8,555.3 1125.1,550.0 1134.4,531.3 1143.7,527.3 1153.0,540.7 1162.4,543.3 1171.7,562.0 1181.0,557.3 1190.3,560.0 1199.6,556.0 1209.0,563.3 1218.3,563.3 1227.6,531.3 1236.9,518.0 1246.2,514.0 1255.6,506.0 1264.9,520.7 1274.2,532.7 1283.5,551.3 1292.8,535.0 1302.2,548.0 1311.5,530.0 1320.8,529.3 1330.1,522.7 1339.4,510.7 1348.8,505.3 1358.1,520.7 1367.4,525.3 1376.7,516.0 1386.0,506.7 1395.4,542.7 1404.7,535.0 1414.0,551.7 1423.3,540.0 1432.6,523.3 1442.0,530.8 1451.3,559.2 1460.6,565.0 1469.9,550.8 1479.2,536.7 1488.6,546.7 1497.9,544.2 1507.2,568.3 1516.5,575.8 1525.8,540.0 1535.2,521.0 1544.5,523.3 1553.8,523.0 1563.1,500.0 1572.4,483.3 1581.8,465.0 1591.1,470.0 1600.4,463.0 1609.7,467.5 1619.0,480.0 1628.4,500.0 1637.7,472.3 1647.0,471.8 1656.3,496.0 1665.6,508.3 1675.0,516.7 1684.3,528.3"/>
<polyline points="808.2,705.0 817.5,684.2 826.8,698.3 836.2,698.3 845.5,708.7 854.8,710.7 864.1,714.7 873.4,700.7 882.8,688.7 892.1,664.7 901.4,654.0 910.7,654.7 920.0,671.3 929.4,680.7 938.7,684.0 948.0,656.7 957.3,648.7 966.6,640.7 976.0,640.0 985.3,641.3 994.6,665.0 1003.9,636.8 1013.2,602.3 1022.6,578.7 1031.9,568.7 1041.2,558.3 1050.5,545.0"/>
<polyline points="1041.2,540.7 1050.5,552.7 1059.8,565.0 1069.2,567.3 1078.5,575.3 1087.8,592.7 1097.1,596.0 1106.4,630.0 1115.8,655.0 1125.1,678.0 1134.4,681.7"/>
<polyline points="1125.1,705.0 1134.4,650.0 1143.7,627.0 1153.0,607.3 1162.4,611.3 1171.7,608.0 1181.0,624.7 1190.3,623.3 1199.6,599.3 1209.0,583.3 1218.3,579.3 1227.6,550.0 1236.9,546.0 1246.2,563.3 1255.6,595.3 1264.9,606.0 1274.2,564.7 1283.5,557.3 1292.8,582.0 1302.2,616.7 1311.5,591.7 1320.8,610.0 1330.1,613.0"/>
<polyline points="1339.4,599.0 1348.8,573.3 1358.1,552.5 1367.4,553.3 1376.7,555.0 1386.0,545.0 1395.4,537.0 1404.7,532.0 1414.0,528.3 1423.3,542.5 1432.6,538.3 1442.0,536.7 1451.3,538.3 1460.6,532.5 1469.9,537.5 1479.2,536.7 1488.6,545.8 1497.9,563.3 1507.2,564.2 1516.5,528.3 1525.8,529.2 1535.2,523.3 1544.5,542.5 1553.8,549.2 1563.1,555.8 1572.4,542.5 1581.8,535.8 1591.1,560.8 1600.4,546.7 1609.7,526.7 1619.0,530.0 1628.4,540.8 1637.7,537.5 1647.0,520.0 1656.3,546.7 1665.6,524.4 1675.0,483.0 1684.3,464.0"/>
</g>
<polyline points="295.6,776.0 304.9,778.8 314.2,789.2 323.6,795.8 332.9,793.8 342.2,786.7 351.5,789.2 360.8,786.7 370.2,787.5 379.5,767.3 388.8,757.3 398.1,760.7 407.4,763.2 416.8,763.2 426.1,767.3 435.4,775.7 444.7,768.2 454.0,765.7 463.4,755.7 472.7,746.5 482.0,742.8 491.3,754.0 500.6,752.3 510.0,737.3 519.3,724.8 528.6,726.5 537.9,719.0 547.2,717.3 556.6,725.7 565.9,726.5 575.2,725.7 584.5,714.8 593.8,703.2 603.2,708.2 612.5,721.7 621.8,735.2 631.1,743.7 640.4,730.7 649.8,714.7 659.1,709.8 668.4,719.8 677.7,716.5 687.0,706.5 696.4,700.7 705.7,696.5 715.0,694.0 724.3,688.2 733.6,685.7 743.0,678.2 752.3,670.7 761.6,671.5 770.9,670.7 780.2,669.8 789.6,663.2 798.9,671.5 808.2,659.0 817.5,652.3 826.8,654.8 836.2,651.5 845.5,650.0 854.8,646.7 864.1,643.3 873.4,633.3 882.8,621.7 892.1,626.7 901.4,623.3 910.7,611.7 920.0,610.8 929.4,627.5 938.7,625.8 948.0,615.0 957.3,612.5 966.6,600.0 976.0,590.0 985.3,570.0 994.6,564.2 1003.9,568.3 1013.2,572.5 1022.6,575.8 1031.9,570.8 1041.2,577.5 1050.5,562.5 1059.8,550.8 1069.2,551.7 1078.5,556.7 1087.8,560.0 1097.1,561.7 1106.4,555.0 1115.8,540.0 1125.1,526.7 1134.4,511.7 1143.7,516.7 1153.0,506.7 1162.4,500.0 1171.7,499.2 1181.0,496.7 1190.3,498.3 1199.6,481.7 1209.0,468.3 1218.3,479.2 1227.6,480.8 1236.9,473.3 1246.2,465.8 1255.6,451.7 1264.9,445.8 1274.2,450.0 1283.5,446.7 1292.8,426.7 1302.2,421.7 1311.5,420.8 1320.8,420.8 1330.1,420.0 1339.4,417.5 1348.8,411.7 1358.1,405.8 1367.4,400.0 1376.7,400.0 1386.0,405.8 1395.4,390.0 1404.7,375.0 1414.0,378.3 1423.3,369.2 1432.6,361.7 1442.0,358.3 1451.3,348.3 1460.6,363.3 1469.9,363.3 1479.2,355.0 1488.6,343.3 1497.9,332.5 1507.2,323.3 1516.5,325.0 1525.8,332.5 1535.2,338.3 1544.5,324.2 1553.8,333.3 1563.1,339.2 1572.4,332.5 1581.8,325.8 1591.1,320.8 1600.4,318.3 1609.7,301.7 1619.0,285.0 1628.4,279.2 1637.7,277.5 1647.0,280.8 1656.3,291.7 1665.6,321.7 1675.0,311.7 1684.3,303.3" fill="none" stroke="#0a8fff" stroke-width="9.4" stroke-linejoin="round" stroke-linecap="round"/>
<polyline points="295.6,778.0 304.9,780.8 314.2,786.7 323.6,793.3 332.9,791.3 342.2,784.2 351.5,786.7 360.8,784.2 370.2,785.0 379.5,765.8 388.8,755.8 398.1,759.2 407.4,761.7 416.8,761.7 426.1,765.8 435.4,774.2 444.7,766.7 454.0,764.2 463.4,754.2 472.7,745.0 482.0,741.3 491.3,752.5 500.6,750.8 510.0,735.8 519.3,723.3 528.6,725.0 537.9,717.5 547.2,715.8 556.6,724.2 565.9,725.0 575.2,724.2 584.5,713.3 593.8,701.7 603.2,706.7 612.5,719.2 621.8,731.7 631.1,739.2 640.4,726.7 649.8,711.7 659.1,708.3 668.4,718.3 677.7,715.0 687.0,705.0 696.4,699.2 705.7,695.0 715.0,692.5 724.3,686.7 733.6,684.2 743.0,676.7 752.3,669.2 761.6,670.0 770.9,669.2 780.2,668.3 789.6,661.7 798.9,670.0 808.2,657.5 817.5,648.3 826.8,650.8 836.2,647.5 845.5,645.0 854.8,643.3 864.1,660.0 873.4,655.0 882.8,660.0 892.1,647.5 901.4,648.3 910.7,641.7 920.0,640.0 929.4,631.7 938.7,645.8 948.0,639.2 957.3,633.3 966.6,631.7 976.0,627.5 985.3,630.0 994.6,622.5 1003.9,610.0 1013.2,593.3 1022.6,591.7 1031.9,590.0 1041.2,594.2 1050.5,598.3 1059.8,602.5 1069.2,595.0 1078.5,581.7 1087.8,570.0 1097.1,561.7 1106.4,565.8 1115.8,564.2 1125.1,570.0 1134.4,551.7 1143.7,550.0 1153.0,539.0 1162.4,530.0 1171.7,531.7 1181.0,537.5 1190.3,547.5 1199.6,541.7 1209.0,536.7 1218.3,529.2 1227.6,520.8 1236.9,514.2 1246.2,511.7 1255.6,518.3 1264.9,528.3 1274.2,515.8 1283.5,515.0 1292.8,516.7 1302.2,518.3 1311.5,510.0 1320.8,508.3 1330.1,500.0 1339.4,493.3 1348.8,487.5 1358.1,481.7 1367.4,479.2 1376.7,480.8 1386.0,475.0 1395.4,474.2 1404.7,472.5 1414.0,475.8 1423.3,477.5 1432.6,471.7 1442.0,470.0 1451.3,471.7 1460.6,467.5 1469.9,461.7 1479.2,449.2 1488.6,463.3 1497.9,470.8 1507.2,470.0 1516.5,462.5 1525.8,458.3 1535.2,470.0 1544.5,490.0 1553.8,485.0 1563.1,480.0 1572.4,462.5 1581.8,454.2 1591.1,460.0 1600.4,461.7 1609.7,455.8 1619.0,459.2 1628.4,466.7 1637.7,480.8 1647.0,469.2 1656.3,476.7 1665.6,469.2 1675.0,478.3 1684.3,470.8" fill="none" stroke="#b22222" stroke-width="9.4" stroke-linejoin="round" stroke-linecap="round"/>
<g fill="none" stroke="#000" stroke-width="3.1" stroke-linecap="round" stroke-linejoin="round">
<rect x="240.3" y="60.2" width="1499.6" height="899.8"/>
<path d="M295.6,960 H1693.8"/>
<path d="M295.6,960 V990.5"/>
<path d="M761.8,960 V990.5"/>
<path d="M1227.8,960 V990.5"/>
<path d="M1693.8,960 V990.5"/>
<path d="M240.3,783.75 V127.5"/>
<path d="M240.3,783.75 H209.5"/>
<path d="M240.3,565.0 H209.5"/>
<path d="M240.3,346.25 H209.5"/>
<path d="M240.3,127.5 H209.5"/>
</g>
<text transform="translate(295.6,1068.5) scale(1,1.03)" text-anchor="middle">1950</text>
<text transform="translate(761.8,1068.5) scale(1,1.03)" text-anchor="middle">2000</text>
<text transform="translate(1227.8,1068.5) scale(1,1.03)" text-anchor="middle">2050</text>
<text transform="translate(1693.8,1068.5) scale(1,1.03)" text-anchor="middle">2100</text>
<text transform="translate(169,784.6) rotate(-90) scale(1,1.03)" text-anchor="middle">120</text>
<text transform="translate(169,565.9) rotate(-90) scale(1,1.03)" text-anchor="middle">140</text>
<text transform="translate(169,347.1) rotate(-90) scale(1,1.03)" text-anchor="middle">160</text>
<text transform="translate(169,128.4) rotate(-90) scale(1,1.03)" text-anchor="middle">180</text>
<text transform="translate(989.7,1188.3) scale(1,1.03)" text-anchor="middle">Year</text>
<text transform="translate(47.6,511) rotate(-90) scale(1,1.03)" text-anchor="middle">Aboveground biomass (t/ha)</text>
<path d="M254,120 H343" stroke="#0a8fff" stroke-width="9.4" stroke-linecap="round" fill="none"/>
<path d="M254,180 H343" stroke="#b22222" stroke-width="9.4" stroke-linecap="round" fill="none"/>
<text transform="translate(388.2,138) scale(1,1.03)">RCP 8.5</text>
<text transform="translate(388.2,198) scale(1,1.03)">RCP 4.5</text>
</svg></body></html>
